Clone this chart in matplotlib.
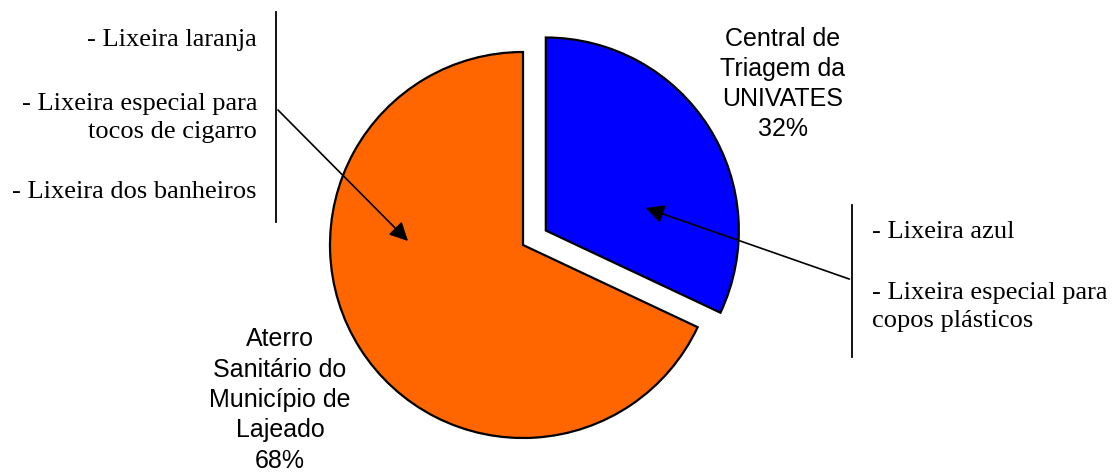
import matplotlib.pyplot as plt

# dados
fatias = ['Central de\nTriagem da\nUNIVATES', 'Aterro\nSanitário do\nMunicípio de\nLajeado']
percentuais = [32, 68]
cores = ['#0000FF', '#FF6600']

lixeiras_laranja = ['- Lixeira laranja', '- Lixeira especial para\ntocos de cigarro', '- Lixeira dos banheiros']
lixeiras_azul = ['- Lixeira azul', '- Lixeira especial para\ncopos plásticos']

W, H = 1118, 474
fig = plt.figure(figsize=(W / 100, H / 100), dpi=100)
ax = fig.add_axes([0, 0, 1, 1])

# eixo em pixels, y de baixo para cima
cx, cy, r = 523, H - 245, 193
ax.pie(percentuais, colors=cores, explode=[0.14 * r, 0], startangle=90,
       counterclock=False, center=(cx, cy), radius=r,
       wedgeprops={'edgecolor': 'black', 'linewidth': 1.6})
ax.set_xlim(0, W)
ax.set_ylim(0, H)
ax.set_aspect('equal')
ax.axis('off')

sans = 'Liberation Sans'
serif = 'Liberation Serif'

# rótulos das fatias
ax.text(783, H - 84, fatias[0] + '\n%d%%' % percentuais[0], ha='center', va='center',
        fontsize=18, family=sans, linespacing=1.33)
ax.text(280, H - 400, fatias[1] + '\n%d%%' % percentuais[1], ha='center', va='center',
        fontsize=18, family=sans, linespacing=1.33)

# lixeiras à esquerda
ax.text(257, H - 40, lixeiras_laranja[0], ha='right', va='center', fontsize=19, family=serif)
ax.text(257, H - 118, lixeiras_laranja[1], ha='right', va='center', fontsize=19, family=serif,
        multialignment='right', linespacing=1.3)
ax.text(257, H - 192, lixeiras_laranja[2], ha='right', va='center', fontsize=19, family=serif)
ax.plot([276, 276], [H - 12, H - 222], color='black', lw=1.3)
ax.annotate('', xy=(410, H - 243), xytext=(276, H - 108),
            arrowprops=dict(arrowstyle='-|>', color='black', lw=1.2, mutation_scale=28))

# lixeiras à direita
ax.text(872, H - 232, lixeiras_azul[0], ha='left', va='center', fontsize=19, family=serif)
ax.text(872, H - 307, lixeiras_azul[1], ha='left', va='center', fontsize=19, family=serif,
        linespacing=1.3)
ax.plot([852, 852], [H - 205, H - 357], color='black', lw=1.3)
ax.annotate('', xy=(643, H - 207), xytext=(852, H - 280),
            arrowprops=dict(arrowstyle='-|>', color='black', lw=1.2, mutation_scale=28))

fig.savefig('out.png', dpi=100)
